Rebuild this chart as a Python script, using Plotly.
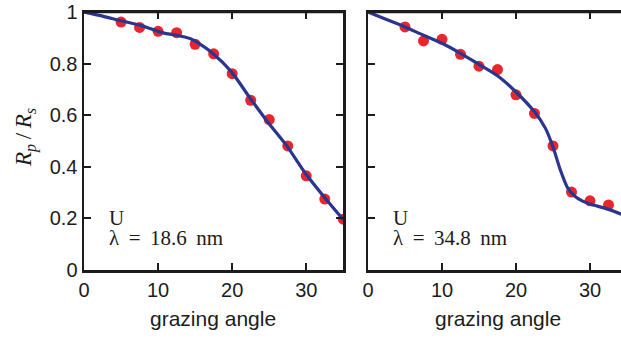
import plotly.graph_objects as go

# ---- data ----
angles_left = [5, 7.5, 10, 12.5, 15, 17.5, 20, 22.5, 25, 27.5, 30, 32.5, 35]
meas_left = [0.961, 0.940, 0.925, 0.920, 0.875, 0.838, 0.761, 0.658, 0.583, 0.481, 0.365, 0.275, 0.197]

fit_x_left = [0, 2.5, 5, 7.5, 9.3, 10, 11.1, 12.5, 14.3, 15.4, 17.4, 19.9, 22.3, 24.8, 27.3, 30, 32.5, 35]
fit_y_left = [1.0, 0.984, 0.966, 0.949, 0.932, 0.925, 0.916, 0.910, 0.897, 0.880, 0.839, 0.768, 0.671, 0.574, 0.484, 0.370, 0.280, 0.195]

angles_right = [5, 7.5, 10, 12.5, 15, 17.5, 20, 22.5, 25, 27.5, 30, 32.5]
meas_right = [0.942, 0.888, 0.894, 0.836, 0.790, 0.777, 0.679, 0.607, 0.481, 0.302, 0.268, 0.252]

fit_x_right = [0, 2.5, 5, 7.5, 10, 12.5, 15, 17.5, 20, 22.5, 24, 25, 26, 27, 28, 29, 30, 32.5, 35]
fit_y_right = [1.0, 0.971, 0.942, 0.910, 0.879, 0.840, 0.797, 0.753, 0.690, 0.613, 0.548, 0.477, 0.387, 0.317, 0.285, 0.267, 0.256, 0.235, 0.208]

x_ticks = [0, 10, 20, 30]
x_tick_text = ["0", "10", "20", "30"]
y_ticks = [0, 0.2, 0.4, 0.6, 0.8, 1]
y_tick_text = ["0", "0.2", "0.4", "0.6", "0.8", "1"]

element = "U"
wavelengths = ["λ\u2009 = \u200918.6\u2009 nm", "λ\u2009 = \u200934.8\u2009 nm"]

RED = "#E8262C"
BLUE = "#2B3590"
INK = "#1c1c1c"
W, H = 621, 340
TOP = 12.0

fig = go.Figure()
for xa, ya, fx, fy, mx, my in [("x", "y", fit_x_left, fit_y_left, angles_left, meas_left),
                               ("x2", "y2", fit_x_right, fit_y_right, angles_right, meas_right)]:
    fig.add_trace(go.Scatter(x=mx, y=my, mode="markers", xaxis=xa, yaxis=ya,
                             marker=dict(color=RED, size=11, line=dict(width=0)),
                             showlegend=False, cliponaxis=True, hoverinfo="skip"))
    fig.add_trace(go.Scatter(x=fx, y=fy, mode="lines", xaxis=xa, yaxis=ya,
                             line=dict(color=BLUE, width=3.2, shape="spline", smoothing=0.8),
                             showlegend=False, hoverinfo="skip"))

def px_x(p):
    return p / W

def px_y(p):
    return 1 - p / H

sans = "Liberation Sans, Arial, Helvetica, sans-serif"
serif = "Liberation Serif, Times New Roman, serif"

axis_common = dict(showgrid=False, zeroline=False, showline=True, linecolor=INK, linewidth=2.5,
                   ticks="inside", ticklen=7, tickwidth=2, tickcolor=INK, automargin=False,
                   showspikes=False, tickfont=dict(family=sans, size=20, color=INK))

fig.update_layout(
    template="none", hovermode=False, dragmode=False,
    width=W, height=H, margin=dict(l=0, r=0, t=0, b=0, pad=0),
    paper_bgcolor="white", plot_bgcolor="white",
    xaxis=dict(domain=[px_x(84), px_x(343.3)], range=[0, 35], tickvals=x_ticks, ticktext=x_tick_text,
               mirror="ticks", anchor="y", side="bottom", **axis_common),
    yaxis=dict(domain=[px_y(270), px_y(TOP)], range=[0, 1], tickvals=y_ticks, ticktext=y_tick_text,
               mirror="ticks", anchor="x", **axis_common),
    xaxis2=dict(domain=[px_x(368), 1.0], range=[0, 253 / 7.4], tickvals=x_ticks, ticktext=x_tick_text,
                mirror="ticks", anchor="y2", side="bottom", **axis_common),
    yaxis2=dict(domain=[px_y(270), px_y(TOP)], range=[0, 1], tickvals=y_ticks, showticklabels=False,
                mirror=False, anchor="x2", **axis_common),
)

# explicit top frame lines in paper coordinates
for x0, x1 in [(84, 343.3), (368, 621)]:
    fig.add_shape(type="line", xref="paper", yref="paper", x0=px_x(x0), x1=px_x(x1),
                  y0=px_y(TOP), y1=px_y(TOP), line=dict(color=INK, width=2.5), layer="above")

ann = []
for cx in (213.5, 497.5):
    ann.append(dict(text="grazing angle", xref="paper", yref="paper", x=px_x(cx), y=px_y(318),
                    showarrow=False, font=dict(family=sans, size=21, color=INK),
                    xanchor="center", yanchor="middle"))
ann.append(dict(text="<i>R</i><sub><i>p</i></sub>\u2009/\u2009<i>R</i><sub><i>s</i></sub>",
                xref="paper", yref="paper",
                x=px_x(25), y=px_y(138), textangle=-90, showarrow=False,
                font=dict(family=serif, size=23, color=INK), xanchor="center", yanchor="middle"))
for xr, yr, wl in [("x", "y", wavelengths[0]), ("x2", "y2", wavelengths[1])]:
    ann.append(dict(text=element, xref=xr, yref=yr, x=3.2, y=0.203, showarrow=False, height=18,
                    borderpad=0, xanchor="left", yanchor="middle",
                    font=dict(family=serif, size=21, color=INK)))
    ann.append(dict(text=wl, xref=xr, yref=yr, x=3.2, y=0.124, showarrow=False, height=18,
                    borderpad=0, xanchor="left", yanchor="middle",
                    font=dict(family=serif, size=21, color=INK)))
fig.update_layout(annotations=ann)

fig.write_html("out.html",
               config=dict(displayModeBar=False, staticPlot=True),
               post_script="document.body.style.margin='0';document.body.style.overflow='hidden';")
